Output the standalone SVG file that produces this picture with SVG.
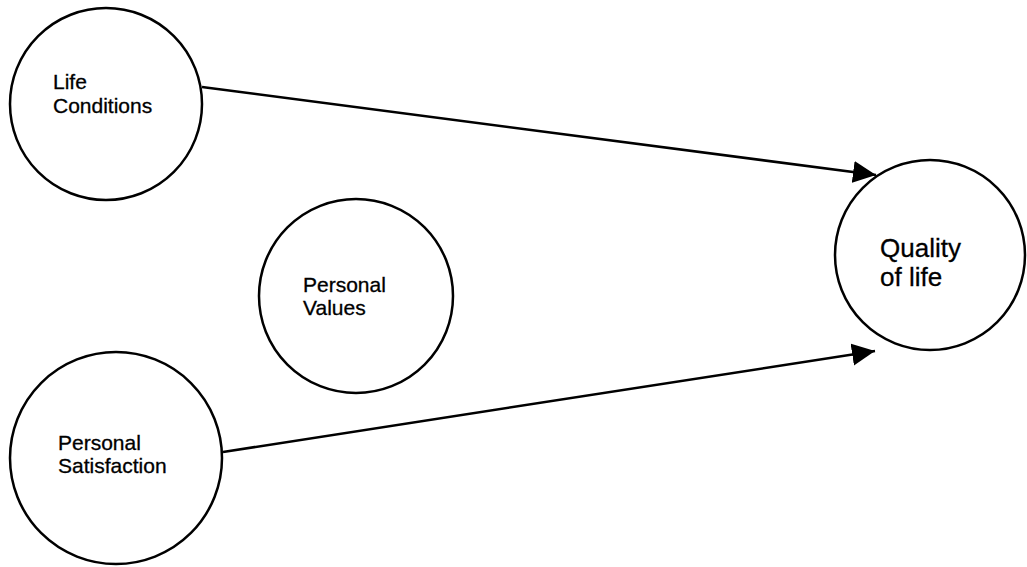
<svg xmlns="http://www.w3.org/2000/svg" width="1027" height="567" viewBox="0 0 1027 567">
<style>
.node{fill:#fff;stroke:#000;stroke-width:2.5}
.lbl{font-family:"Liberation Sans",Arial,sans-serif;font-size:21px;fill:#000;stroke:#000;stroke-width:0.3}
.big{font-size:26px}
.edge{stroke:#000;stroke-width:2.5;fill:none}
</style>
<defs>
<marker id="ah" markerUnits="userSpaceOnUse" markerWidth="24" markerHeight="24" refX="23" refY="11" orient="auto" viewBox="0 0 24 22">
<polygon points="0,0 23,11 0,22" fill="#000"/>
</marker>
</defs>
<rect width="1027" height="567" fill="#fff"/>
<g id="life-conditions">
<circle class="node" cx="106" cy="104" r="96"/>
<text class="lbl" x="53" y="89">Life</text>
<text class="lbl" x="53" y="113">Conditions</text>
</g>
<g id="personal-values">
<circle class="node" cx="356" cy="296" r="97"/>
<text class="lbl" x="303" y="292">Personal</text>
<text class="lbl" x="303" y="315">Values</text>
</g>
<g id="personal-satisfaction">
<circle class="node" cx="116" cy="458" r="106"/>
<text class="lbl" x="58" y="450">Personal</text>
<text class="lbl" x="58" y="473">Satisfaction</text>
</g>
<g id="quality-of-life">
<circle class="node" cx="930" cy="255" r="95"/>
<text class="lbl big" x="880" y="257">Quality</text>
<text class="lbl big" x="880" y="286">of life</text>
</g>
<g id="connectors">
<line class="edge" x1="202" y1="87" x2="876" y2="175" marker-end="url(#ah)"/>
<line class="edge" x1="223" y1="452" x2="875" y2="351" marker-end="url(#ah)"/>
</g>
</svg>
